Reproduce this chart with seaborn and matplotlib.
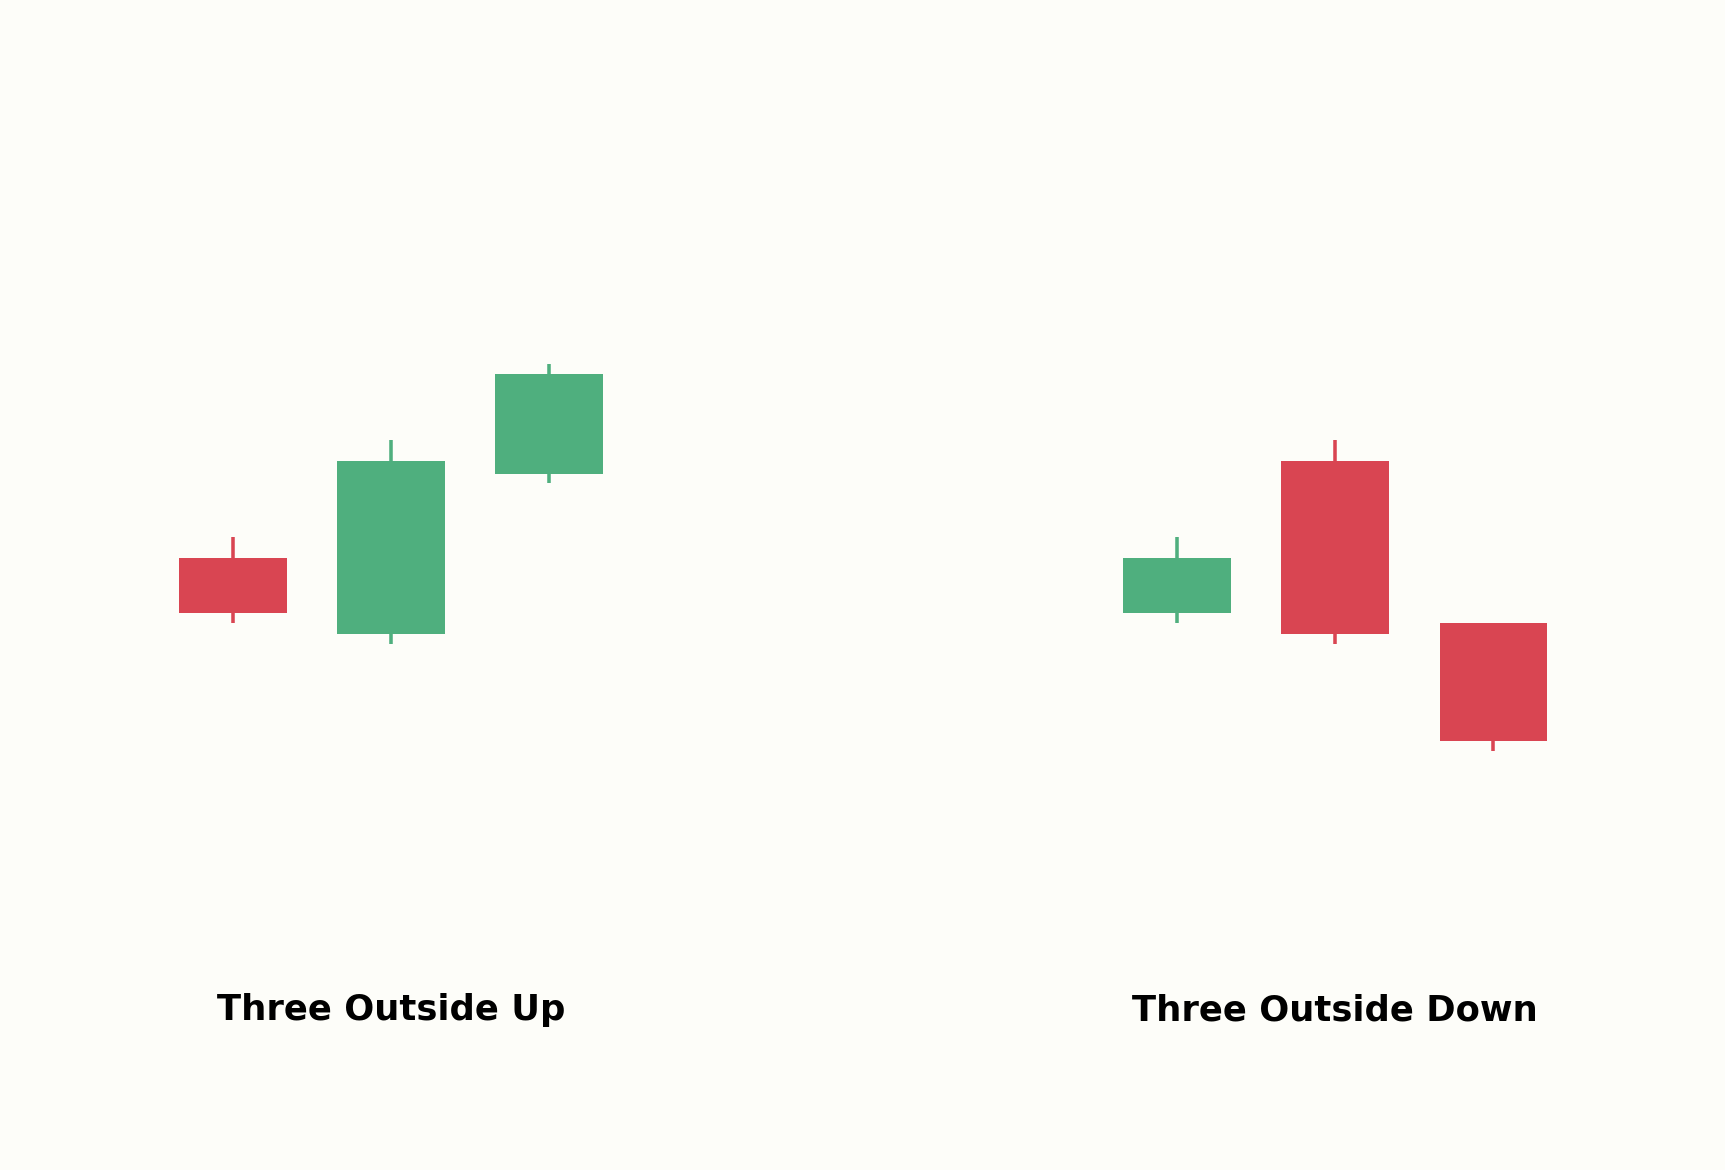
import matplotlib
matplotlib.use("Agg")
import matplotlib.pyplot as plt
import seaborn as sns
import numpy as np

# ---- data ----
patterns = ["Three Outside Up", "Three Outside Down"]
up_open = [109.3, 102.4, 116.9]
up_high = [111.2, 120.0, 126.8]
up_low = [103.4, 101.5, 116.1]
up_close = [104.3, 118.1, 125.9]
down_open = [104.3, 118.1, 103.4]
down_high = [111.2, 120.0, 103.4]
down_low = [103.4, 101.5, 91.8]
down_close = [109.3, 102.4, 92.7]

BG = "#FDFDF9"
RED = "#D94552"
GREEN = "#4FAF7E"

sns.set_theme(style="white")
plt.rcParams["font.family"] = ["DejaVu Sans"]

fig = plt.figure(figsize=(11.5, 7.8), dpi=150)
fig.patch.set_facecolor(BG)

W = 1560.0
positions = [(67.5 / W, 572 / W), (921.5 / W, 572 / W)]
datasets = [
    (up_open, up_high, up_low, up_close),
    (down_open, down_high, down_low, down_close),
]

for (left, width), title, (o, h, l, c) in zip(positions, patterns, datasets):
    ax = fig.add_axes([left, 0.0, width, 1.0])
    ax.set_facecolor(BG)
    x = np.arange(len(o))
    o = np.array(o); h = np.array(h); l = np.array(l); c = np.array(c)
    colors = [GREEN if cc >= oo else RED for oo, cc in zip(o, c)]
    ax.vlines(x, l, h, colors=colors, linewidth=1.7, zorder=1)
    ax.bar(x, c - o, bottom=o, width=0.68, color=colors, edgecolor="none", zorder=2)
    ax.set_xlim(-1, 3)
    ax.set_ylim(53.95, 159.75)
    ax.text(1, 68.4, title, ha="center", va="center", fontsize=17,
            fontweight="bold", color="black")
    ax.axis("off")

fig.savefig("out.png", dpi=150, facecolor=BG)
